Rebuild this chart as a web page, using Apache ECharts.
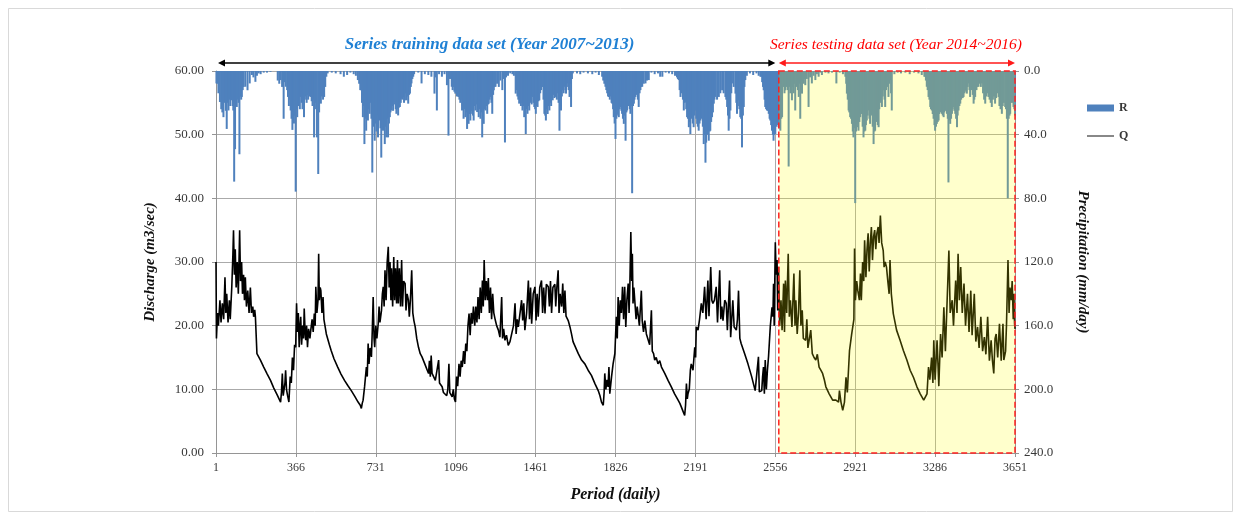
<!DOCTYPE html>
<html>
<head>
<meta charset="utf-8">
<script src="https://cdn.jsdelivr.net/npm/echarts@6/dist/echarts.min.js"></script>
<style>
  html, body { margin: 0; padding: 0; background: #fff; }
  #main { width: 1242px; height: 520px; }
</style>
</head>
<body>
<div id="main"></div>
<script>
// Q: daily discharge (m3/sec) as [day, value]
const dischargeQ = [
  [1,30],[3,18],[8,22],[12,20],[19,24],[24,20.5],[30,23.5],[36,21],[42,27.6],[46,22],[50,25],[56,20.5],
  [62,24],[66,21],[73,26],[78,31],[81,35],[85,28],[89,32],[93,26],[98,30],[103,25],[109,35],[113,27],
  [118,30],[122,25],[127,28],[131,24],[135,27.6],[140,23],[146,25.5],[152,22],[158,26],[163,22],[169,23],
  [173,21.4],[178,22.5],[181,21.4],[188,15.6],[204,14.6],[219,13.5],[235,12.4],[250,11.4],[265,10.2],
  [281,9.1],[296,8],[300,9.5],[304,12.5],[308,9],[311,8.8],[316,11],[319,13],[323,10],[328,9],[334,8],
  [340,12],[345,11],[350,15],[355,13],[360,17],[365,16.6],
  [369,23.5],[373,19],[377,22],[381,16.6],[385,20],[388,21.4],[392,17],[397,20],[401,18],[404,22.7],
  [408,19],[411,17.7],[415,20],[419,16.6],[424,19.5],[430,18],[434,19.3],[440,21],[445,19],[450,21.9],
  [454,20],[457,26.1],[462,22],[467,24],[470,31.3],[473,24],[477,26],[480,25.5],[485,22],[490,24.5],
  [494,21],[500,21],[505,18.7],[511,18.7],[519,17],[527,16.1],[540,14.8],[557,13.5],[572,12.4],[588,11.4],
  [603,10.6],[619,9.8],[635,8.9],[650,8],[660,7.5],[665,7],[669,7.8],[673,8.3],[680,10.5],[688,13.5],
  [692,12],[696,17.2],[700,14],[705,16.5],[711,15.1],[715,19.3],[719,24.5],[723,18],[726,16.6],
  [731,20],[736,18],[742,20.3],[746,23],[750,20.5],[757,22.4],[761,25],[765,26.1],[769,23],[773,28.7],
  [778,24],[783,30],[788,32.4],[792,26],[796,30],[800,24],[803,29],[808,23],[813,30.8],[817,24],[821,29],
  [826,23.5],[830,30.3],[834,23.5],[839,29],[844,23],[849,30.3],[853,23],[858,27],[865,26.6],[869,22.4],
  [874,25],[880,24],[884,21.4],[889,24],[895,28.7],[900,22],[905,20.8],[911,19.8],[918,18],[926,16.6],
  [934,15.6],[942,15.1],[957,13.8],[966,13],[972,12.5],[976,14.5],[980,12],[984,15.3],[988,12.5],
  [1003,11.4],[1010,11.5],[1018,14.6],[1022,11],[1034,10.4],[1040,9.5],[1049,9.8],[1055,9],[1060,10],
  [1065,14],[1069,9.5],[1075,9.5],[1080,8.8],[1085,10],[1090,8.5],[1095,8],
  [1100,12],[1105,10.5],[1111,14],[1116,12],[1121,14.5],[1126,13.5],[1132,16],[1137,14],[1142,17.2],
  [1147,16],[1152,20],[1157,21.9],[1162,18.5],[1167,22],[1172,20.3],[1177,23],[1183,20],[1188,23],
  [1193,20.5],[1198,24.5],[1203,21],[1208,26],[1213,22],[1218,27.1],[1222,23],[1226,30.3],[1231,24],
  [1236,27],[1241,24],[1245,27.5],[1250,22],[1255,26],[1260,21],[1265,25],[1270,22],[1276,21],[1283,20],
  [1291,19.3],[1298,18.2],[1306,24.5],[1310,18],[1315,19.5],[1321,17.7],[1328,18.5],[1336,16.9],
  [1344,17.5],[1352,17.2],[1360,20],[1367,23.5],[1372,18.7],[1377,21],[1382,19.8],[1390,22],[1397,24],
  [1402,20.8],[1407,23.5],[1412,19.3],[1420,22],[1428,27.1],[1433,21],[1438,26],[1443,20.3],[1450,25],
  [1458,26.1],[1463,20.8],[1468,25],[1473,21.4],[1480,26],[1488,27.1],[1493,22],[1498,26],[1504,21.9],
  [1510,26.5],[1519,26.1],[1524,23],[1529,27],[1534,22],[1540,26],[1549,26.5],[1553,23],[1558,26],
  [1564,28.7],[1568,22],[1573,25],[1580,23],[1585,26.6],[1590,22],[1595,25.5],[1600,21.5],[1610,20.8],
  [1618,19.8],[1625,18.7],[1632,17.5],[1640,17.2],[1656,15.6],[1671,14.6],[1686,14],[1701,13],
  [1716,12.2],[1732,10.9],[1747,9.8],[1755,9],[1762,8],[1770,7.5],[1774,9.5],[1777,12.5],[1782,10],
  [1787,11.5],[1792,10.4],[1796,13.5],[1800,9.3],[1808,12],[1815,14],[1823,15.6],[1827,19],[1830,21.4],
  [1834,18],[1838,24.5],[1843,20],[1848,24],[1853,22],[1858,26.1],[1863,21],[1868,26.1],[1873,19.8],
  [1878,24],[1884,26.6],[1888,22],[1892,27],[1896,34.7],[1900,27],[1903,31.3],[1906,23.5],[1910,26],
  [1914,24],[1920,21],[1925,23],[1929,21.9],[1935,20],[1940,23],[1944,25.5],[1948,20.8],[1954,19],
  [1960,20.8],[1967,18.7],[1975,18.7],[1982,17],[1990,22.4],[1994,16],[2000,15.6],[2005,14.6],
  [2012,15],[2020,14],[2028,14.5],[2036,13.5],[2051,12.5],[2066,11.4],[2081,10.4],[2096,9.3],
  [2112,8.3],[2120,7.8],[2127,7.2],[2135,6.5],[2142,5.9],[2146,7.5],[2150,10.9],[2154,8.5],[2157,9.3],
  [2163,10],[2168,13],[2172,14],[2180,13],[2188,16.6],[2192,15],[2195,19.8],[2203,19.3],[2210,21],
  [2218,23.5],[2225,22],[2233,26.1],[2240,21],[2248,27.1],[2253,21.5],[2261,29.2],[2266,24],[2271,23.5],
  [2278,24],[2286,26.1],[2292,20.5],[2302,28.7],[2307,21],[2312,23],[2317,20.8],[2325,24],[2332,23.5],
  [2337,19.3],[2347,27.1],[2352,18.2],[2362,24],[2368,19.8],[2378,19.3],[2383,21],[2388,25.5],[2394,18],
  [2400,17.2],[2416,15.6],[2431,14],[2448,12],[2464,9.8],[2472,9.6],[2479,15.1],[2483,9.6],[2494,9.8],
  [2498,12],[2502,13.5],[2506,9.3],[2510,14.6],[2515,10],[2520,13],[2525,15.1],[2533,19.8],[2541,22.9],
  [2545,21.4],[2548,26.6],[2551,20],[2556,33.1],[2560,28],[2564,30.3],[2567,22.4],[2571,29.2],[2576,20],
  [2582,24],[2587,19.3],[2594,26.6],[2598,19],[2602,27.1],[2608,22],[2615,31.3],[2620,21.4],[2625,24],
  [2632,19.8],[2641,28.2],[2646,20],[2650,24],[2656,18.7],[2662,22],[2668,28.7],[2673,20],[2679,22.4],
  [2684,18],[2695,17.7],[2700,21],[2705,16.5],[2710,16.6],[2718,19.3],[2725,15.6],[2733,15],[2741,14.6],
  [2748,15.5],[2756,13.5],[2764,13],[2772,12.5],[2780,11.5],[2787,10.4],[2802,9.3],[2810,9],[2818,8.3],
  [2833,8.3],[2845,8],[2849,9.8],[2856,8],[2864,6.7],[2872,8],[2879,11.9],[2885,9.5],[2895,16.1],
  [2905,18.7],[2910,18.7],[2915,21],[2918,32.1],[2922,24],[2928,27],[2933,25.5],[2940,24],[2945,28.2],
  [2949,24],[2955,30],[2960,27],[2964,33.4],[2970,27.6],[2975,32],[2980,34.5],[2985,28.5],[2990,33],
  [2995,35.5],[3000,30.3],[3005,34],[3010,35],[3015,32],[3020,34.5],[3026,35.5],[3030,33],[3036,37.3],
  [3042,33],[3049,31.8],[3053,29.2],[3058,30],[3064,29.2],[3070,27],[3076,25],[3080,30.3],[3086,25],
  [3095,21.9],[3110,19.3],[3126,17.7],[3141,16.1],[3157,14.6],[3172,13],[3187,11.9],[3203,10.4],
  [3218,9.3],[3234,8.3],[3242,8.3],[3249,9.3],[3256,13.5],[3262,11.5],[3270,15],[3276,11],[3280,17.7],
  [3286,11.5],[3295,17.7],[3303,10.5],[3311,18.7],[3318,15],[3326,22.9],[3333,16],[3341,24],[3349,31.8],
  [3355,22],[3364,24],[3370,20],[3380,27.1],[3386,22],[3391,31.3],[3397,24],[3403,29.2],[3410,22],
  [3418,26.6],[3425,20],[3434,25],[3441,19],[3449,25.5],[3455,18.5],[3465,25],[3472,17.5],[3480,19.8],
  [3487,16.5],[3495,21.4],[3503,16],[3511,18.2],[3518,15.5],[3526,21.4],[3534,14.5],[3542,17.7],
  [3548,14.5],[3554,12.5],[3560,18],[3565,18.7],[3572,15],[3580,20.3],[3588,14.5],[3596,20.3],
  [3600,14.6],[3608,16],[3612,20],[3619,30.3],[3624,22],[3628,26],[3634,24],[3638,27],[3643,21],
  [3646,25],[3649,20.3],[3651,19.5]
];

// R: daily precipitation (mm/day) as [day, value]
const rainR = [
  [3,7.8],[7,8],[12,14],[19,19.5],[25,24],[30,26],[35,29],[42,20],[46,25],[50,36.4],[54,20],[58,24.8],
  [62,18],[66,22],[70,16],[73,18.4],[77,22],[80,24.8],[84,69.5],[88,49.1],[92,20],[96,22.6],[100,18],
  [104,20],[108,52.3],[112,16],[116,18],[119,16.3],[123,12],[127,10],[135,9.9],[145,12.1],[155,7.8],
  [165,2.5],[172,4],[181,6.8],[188,3],[196,1.5],[205,2],[219,1],[234,1],[250,0.5],
  [283,6],[290,8],[296,5.7],[303,10],[310,30],[315,7],[320,9.9],[326,12],
  [330,16.3],[334,22],[338,18],[342,24.8],[346,30],[350,37],[354,26],[357,33],[361,28],[365,75.8],
  [368,24],[372,29],[376,22],[380,20],[384,24],[388,16.3],[392,20],[396,24],[400,20],[403,29],[407,18],
  [411,16],[415,20],[418,15.2],[422,18],[426,16],[430,14],[434,16.3],[438,19],[442,22],[446,18],
  [449,41.7],[453,24],[457,20],[462,41.7],[468,64.7],[472,26],[476,20],[480,20.5],[485,16],[490,18],
  [495,16.3],[500,10],[505,3.6],[511,1.5],[530,1],[548,1.5],[570,2],[585,3.6],[600,2.5],[615,1],
  [630,2],[640,3],
  [649,5.7],[655,8],[660,12],[664,12.1],[668,20],[672,29],[676,22],[679,45.9],[683,30],[687,37.5],
  [691,28],[695,31.1],[699,24],[703,26.9],[707,20],[711,30],[715,63.8],[719,35],[722,28],[726,43.8],
  [730,33],[734,38],[738,30],[741,41.7],[745,28],[749,31.1],[752,36],[756,54.4],[760,34],[764,37.5],
  [768,30],[772,45.9],[776,35],[779,41.7],[783,30],[787,41.7],[791,33],[795,29],[798,26],[802,24.8],
  [806,22],[810,25],[814,21],[818,19.5],[822,24],[825,26.9],[829,24],[833,27.9],[837,23],[841,22.6],
  [845,20],[848,17.4],[852,18],[856,16.3],[860,20],[864,18.4],[868,14],[871,18.4],[875,16],[879,20.5],
  [883,15],[887,14.2],[891,10],[894,7.8],[898,5],[902,3.6],[906,2],
  [925,1],[940,7.8],[955,2],[971,2.5],[985,3.6],[999,14.2],[1003,4],[1010,24.8],[1020,2],[1033,3.6],
  [1045,2],[1056,8.9],[1063,40.6],
  [1070,5],[1078,9.9],[1082,12],[1086,10],[1090,13],[1094,14.2],[1098,12],[1102,16],[1105,14],
  [1109,16.3],[1113,18],[1117,20],[1121,18],[1125,24.8],[1128,22],[1132,30],[1136,24],[1140,29],
  [1144,26],[1148,36.4],[1151,28],[1155,33.2],[1159,27],[1163,31.1],[1167,25],[1171,26.9],[1175,28],
  [1178,31.1],[1182,22],[1186,24.8],[1190,21],[1194,25.8],[1198,23],[1201,29],[1205,24],[1209,30],
  [1213,26],[1217,41.7],[1220,28],[1224,33.2],[1228,24],[1232,24.8],[1236,22],[1240,26.9],[1244,21],
  [1247,20.5],[1251,18],[1255,16.3],[1259,20],[1263,26.9],[1267,15],[1270,12.1],[1274,10],[1278,9.9],
  [1285,8],[1293,10],[1300,6],[1309,12],[1315,5],[1321,44.9],[1326,4],[1335,3],[1345,1.5],[1355,2],
  [1362,3],
  [1370,14.2],[1374,12],[1378,16],[1382,18],[1386,20.5],[1390,17],[1394,22],[1398,20],[1401,24.8],
  [1405,22],[1409,29],[1412,24],[1416,39.6],[1420,24],[1424,26.9],[1428,22],[1432,24.8],[1436,20],
  [1440,18],[1443,21],[1447,16.3],[1451,20],[1455,22.6],[1459,24],[1462,26.9],[1466,22],[1470,22.6],
  [1474,19],[1478,18.4],[1482,14],[1486,12],[1490,10],[1493,9.9],[1497,18],[1501,26.9],[1505,28],
  [1508,31.1],[1512,24],[1516,27],[1520,22],[1524,24.8],[1528,20],[1532,22],[1536,18],[1539,18.4],
  [1543,15],[1547,17],[1550,14],[1554,16.3],[1558,18],[1562,14],[1566,20],[1570,37.5],[1574,22],
  [1577,24.8],[1581,16],[1585,12.1],[1589,14],[1593,9.9],[1597,12],[1600,14.2],[1604,10],[1608,7.8],
  [1612,12],[1616,16.3],[1620,8],[1623,22.6],[1627,5],[1631,1.5],
  [1650,1.5],[1665,2],[1680,1],[1700,1.5],[1720,2],[1735,1],[1750,2.5],
  [1765,3.6],[1770,6],[1775,8],[1780,9.9],[1784,12],[1788,14],[1792,16],[1796,16.3],[1800,18],[1804,16],
  [1808,20],[1811,20.5],[1815,24],[1818,29],[1822,33],[1826,42.7],[1830,30],[1834,26.9],[1838,28],
  [1841,29],[1845,24],[1849,22.6],[1853,25],[1856,26.9],[1860,30],[1864,33.2],[1868,28],[1872,43.8],
  [1876,26],[1879,24.8],[1883,22],[1887,20.5],[1891,24],[1894,26.9],[1898,22],[1902,76.8],[1906,22],
  [1910,20.5],[1913,18],[1917,16.3],[1921,15],[1925,13.1],[1928,18],[1932,22.6],[1936,14],[1940,12],
  [1944,10],[1948,9.9],[1955,8],[1963,7.8],[1970,6],[1978,5.7],
  [1990,1],[2005,2],[2020,1.5],[2030,3.6],[2040,3.6],[2055,1],[2070,1.5],[2085,2],[2098,3],
  [2107,4],[2111,5],[2115,5.7],[2119,12],[2123,16.3],[2126,14],[2130,12.1],[2134,18],[2138,24.8],
  [2142,20],[2145,19.5],[2149,24],[2153,29],[2157,30],[2161,35.3],[2164,32],[2168,39.6],[2172,30],
  [2176,29],[2179,33],[2183,35.3],[2187,28],[2191,24.8],[2195,30],[2199,33.2],[2202,35],[2206,37.5],
  [2210,33],[2214,31.1],[2218,30],[2221,29],[2225,35],[2229,45.9],[2233,40],[2237,57.6],[2240,45],
  [2244,39.6],[2248,40],[2252,43.8],[2256,38],[2259,37.5],[2263,32],[2267,29],[2271,26],[2275,20.5],
  [2278,18],[2282,16.3],[2290,18],[2298,16.3],[2305,14],[2313,12.1],[2320,14],[2328,16.3],[2332,18],
  [2336,22.6],[2340,28],[2343,37.5],[2347,30],[2351,24.8],[2355,14],[2358,7.8],[2366,10],[2374,14.2],
  [2378,20],[2381,26.9],[2385,22],[2389,18.4],[2392,24],[2396,29],[2400,30],[2404,48],[2408,28],
  [2412,22.6],[2415,10],[2419,5.7],[2426,3],
  [2440,1.5],[2455,2.5],[2470,1.5],[2480,3],
  [2488,3.6],[2492,3.6],[2496,7],[2500,10],[2503,12.1],[2507,18],[2510,22.6],[2514,24],[2518,24.8],
  [2522,25],[2526,26.9],[2530,30],[2533,31.1],[2537,34],[2541,37.5],[2545,40],[2548,43.8],[2552,40],
  [2556,39.6],[2560,35],[2564,33.2],[2567,34],[2571,35.3],[2575,36],[2579,37.5],[2583,30],[2587,29],
  [2594,10],[2598,14],[2602,12.1],[2606,10],[2610,8],[2613,12],[2617,60],[2621,10],[2625,14],[2629,12],
  [2632,18.4],[2636,10],[2640,14],[2643,8],[2647,24.8],[2651,10],[2655,6],[2659,12],[2663,16.3],
  [2667,8],[2670,30],[2674,10],[2678,14.2],[2682,6],[2686,8],[2690,5],[2693,8.9],[2700,5],[2708,22.6],
  [2715,4],[2723,7.8],[2731,3],[2739,5.7],[2746,2],[2754,3.6],[2762,1],[2769,2.5],[2785,1],[2799,1.5],
  [2815,1],[2835,7.8],[2850,1],[2865,2],
  [2876,3.6],[2880,8],[2883,14.2],[2887,18],[2891,24.8],[2894,26],[2898,29],[2902,30],[2906,33.2],
  [2910,38],[2913,41.7],[2917,36],[2921,83],[2925,38],[2929,35.3],[2932,33],[2936,37.5],[2940,32],
  [2944,29],[2947,27],[2951,26.9],[2955,35],[2959,41.7],[2963,38],[2967,37.5],[2970,34],[2974,31.1],
  [2978,28],[2982,24.8],[2986,30],[2989,33.2],[2993,28],[2997,26.9],[3001,35],[3005,45.9],[3009,38],
  [3012,37.5],[3016,32],[3020,29],[3024,34],[3028,35.3],[3031,24],[3035,18.4],[3039,20],[3043,22.6],
  [3047,16],[3051,12.1],[3055,18],[3058,22.6],[3062,12],[3066,7.8],[3070,10],[3073,16.3],[3077,8],
  [3081,5.7],[3085,14],[3088,24.8],
  [3100,2],[3115,1],[3130,1.5],[3150,1],[3170,2],[3190,1],[3210,1.5],[3225,2.5],
  [3237,3.6],[3241,3.6],[3244,6],[3248,9.9],[3252,12],[3256,16.3],[3260,18],[3264,22.6],[3267,24],
  [3271,24.8],[3275,27],[3279,30],[3283,34],[3286,37.5],[3290,35],[3294,33.2],[3298,32],[3302,31.1],
  [3305,27],[3309,24.8],[3313,26],[3317,26.9],[3321,28],[3325,29],[3328,26],[3332,24.8],[3336,25],
  [3340,26.9],[3344,30],[3347,70],[3351,31],[3355,33.2],[3359,30],[3363,26.9],[3366,24],[3370,22.6],
  [3374,25],[3378,26.9],[3382,30],[3386,35.3],[3389,28],[3393,24.8],[3397,22],[3401,20.5],[3405,18],
  [3408,16.3],[3412,17],[3416,16.3],[3420,14],[3424,12.1],[3428,13],[3431,14.2],[3435,10],[3439,7.8],
  [3443,12],[3446,16.3],[3450,12],[3454,9.9],[3458,15],[3462,20.5],[3465,18],[3469,16.3],[3475,12],
  [3480,10],[3484,9.9],[3490,8],[3495,10],[3500,7.8],[3505,14],[3510,18],[3515,20.5],[3520,16],
  [3525,14],[3530,16.3],[3535,18],[3540,20],[3545,22.6],[3550,18],[3555,16],[3560,20.5],[3565,17],
  [3570,14],[3576,16.3],[3580,22],[3585,24],[3591,26.9],[3595,22],[3600,20],[3606,22.6],[3610,24],
  [3614,30],[3618,80],[3622,30],[3626,28],[3629,26.9],[3633,20],[3636,16.3],[3640,20],[3644,22.6],
  [3648,24],[3651,28]
];

// periods (day numbers)
const trainPeriod = [1, 2556];
const testPeriod = [2572, 3651];

const serif = 'Liberation Serif';
const labelColor = '#383838';
const gridColor = '#aaaaaa';
const axisColor = '#959595';

// the x axis runs 0..3650 so that ticks fall on 1, 366, 731 ...
const toAxis = pts => pts.map(p => [p[0] - 1, p[1]]);

const myChart = echarts.init(document.getElementById('main'));

myChart.setOption({
  animation: false,
  backgroundColor: '#fff',
  grid: { left: 216, right: 227, top: 71, bottom: 67 },
  legend: {
    orient: 'vertical',
    left: 1082,
    top: 97,
    itemGap: 16,
    itemWidth: 27,
    itemHeight: 7,
    textStyle: { fontFamily: serif, fontWeight: 'bold', fontSize: 12, color: labelColor },
    data: [
      { name: 'R', icon: 'rect' },
      // thin line icon (the outer moves keep the bounding box 27x7)
      { name: 'Q', icon: 'path://M0,0 L0,0 M0,2.8 L27,2.8 L27,4.2 L0,4.2 Z M27,7 L27,7', itemStyle: { color: '#555' } }
    ]
  },
  xAxis: {
    type: 'value',
    min: 0,
    max: 3650,
    interval: 365,
    name: 'Period (daily)',
    nameLocation: 'middle',
    nameGap: 34,
    nameTextStyle: { fontFamily: serif, fontStyle: 'italic', fontWeight: 'bold', fontSize: 16, color: '#111' },
    axisLine: { lineStyle: { color: axisColor } },
    axisTick: { length: 4, lineStyle: { color: axisColor } },
    axisLabel: { formatter: v => String(v + 1), fontFamily: serif, fontSize: 12, color: labelColor, margin: 9 },
    splitLine: { show: true, lineStyle: { color: gridColor } }
  },
  yAxis: [
    {
      type: 'value',
      min: 0,
      max: 60,
      interval: 10,
      name: 'Discharge (m3/sec)',
      nameLocation: 'middle',
      nameGap: 58,
      nameTextStyle: { fontFamily: serif, fontStyle: 'italic', fontWeight: 'bold', fontSize: 15, color: '#111' },
      axisLine: { show: true, lineStyle: { color: axisColor } },
      axisTick: { show: true, length: 4, lineStyle: { color: axisColor } },
      axisLabel: { formatter: v => v.toFixed(2), fontFamily: serif, fontSize: 13, color: labelColor, margin: 12 },
      splitLine: { show: true, lineStyle: { color: gridColor } }
    },
    {
      type: 'value',
      position: 'right',
      min: 0,
      max: 240,
      interval: 40,
      inverse: true,
      name: 'Precipitation (mm/day)',
      nameLocation: 'middle',
      nameRotate: -90,
      nameGap: 60,
      nameTextStyle: { fontFamily: serif, fontStyle: 'italic', fontWeight: 'bold', fontSize: 15, color: '#111' },
      axisLine: { show: true, lineStyle: { color: axisColor } },
      axisTick: { show: true, length: 4, lineStyle: { color: axisColor } },
      axisLabel: { formatter: v => v.toFixed(1), fontFamily: serif, fontSize: 13, color: labelColor, margin: 9 },
      splitLine: { show: false }
    }
  ],
  series: [
    {
      name: 'R',
      type: 'bar',
      yAxisIndex: 1,
      barWidth: 2,
      itemStyle: { color: '#4f81bd' },
      data: toAxis(rainR)
    },
    {
      name: 'Q',
      type: 'line',
      yAxisIndex: 0,
      symbol: 'none',
      lineStyle: { color: '#000', width: 1.6 },
      itemStyle: { color: '#000' },
      data: toAxis(dischargeQ),
      markArea: {
        silent: true,
        z: 10,
        itemStyle: {
          color: 'rgba(255,255,0,0.2)',
          borderColor: '#ff2020',
          borderWidth: 1.5,
          borderType: 'dashed'
        },
        data: [[
          { xAxis: testPeriod[0] - 1, yAxis: 60 },
          { xAxis: testPeriod[1] - 1, yAxis: 0 }
        ]]
      }
    }
  ]
});

// period arrows and captions above the plot
const px = d => myChart.convertToPixel({ xAxisIndex: 0 }, d - 1);
const arrowY = 63;

function doubleArrow(x1, x2, color) {
  const h = 7, w = 3.5;
  return [
    { type: 'line', shape: { x1: x1 + 2, y1: arrowY, x2: x2 - 2, y2: arrowY }, style: { stroke: color, lineWidth: 1.5 } },
    { type: 'polygon', shape: { points: [[x1, arrowY], [x1 + h, arrowY - w], [x1 + h, arrowY + w]] }, style: { fill: color } },
    { type: 'polygon', shape: { points: [[x2, arrowY], [x2 - h, arrowY - w], [x2 - h, arrowY + w]] }, style: { fill: color } }
  ];
}

const t0 = px(trainPeriod[0]) + 2, t1 = px(trainPeriod[1]);
const s0 = px(testPeriod[0]), s1 = px(testPeriod[1]);

myChart.setOption({
  graphic: [
    // light chart-area frame
    { type: 'rect', shape: { x: 8.5, y: 8.5, width: 1224, height: 503 }, style: { fill: null, stroke: '#d9d9d9', lineWidth: 1 }, silent: true },
    ...doubleArrow(t0, t1, '#000'),
    ...doubleArrow(s0, s1, '#ff1a1a'),
    {
      type: 'text', x: (t0 + t1) / 2 - 7, y: 45,
      style: {
        text: 'Series training data set (Year 2007~2013)',
        font: 'italic bold 17px "Liberation Serif"', fill: '#1f80d4',
        align: 'center', verticalAlign: 'middle'
      }
    },
    {
      type: 'text', x: (s0 + s1) / 2 - 1, y: 45,
      style: {
        text: 'Series testing data set (Year 2014~2016)',
        font: 'italic 15.5px "Liberation Serif"', fill: '#ff0000',
        align: 'center', verticalAlign: 'middle'
      }
    }
  ]
});
</script>
</body>
</html>
